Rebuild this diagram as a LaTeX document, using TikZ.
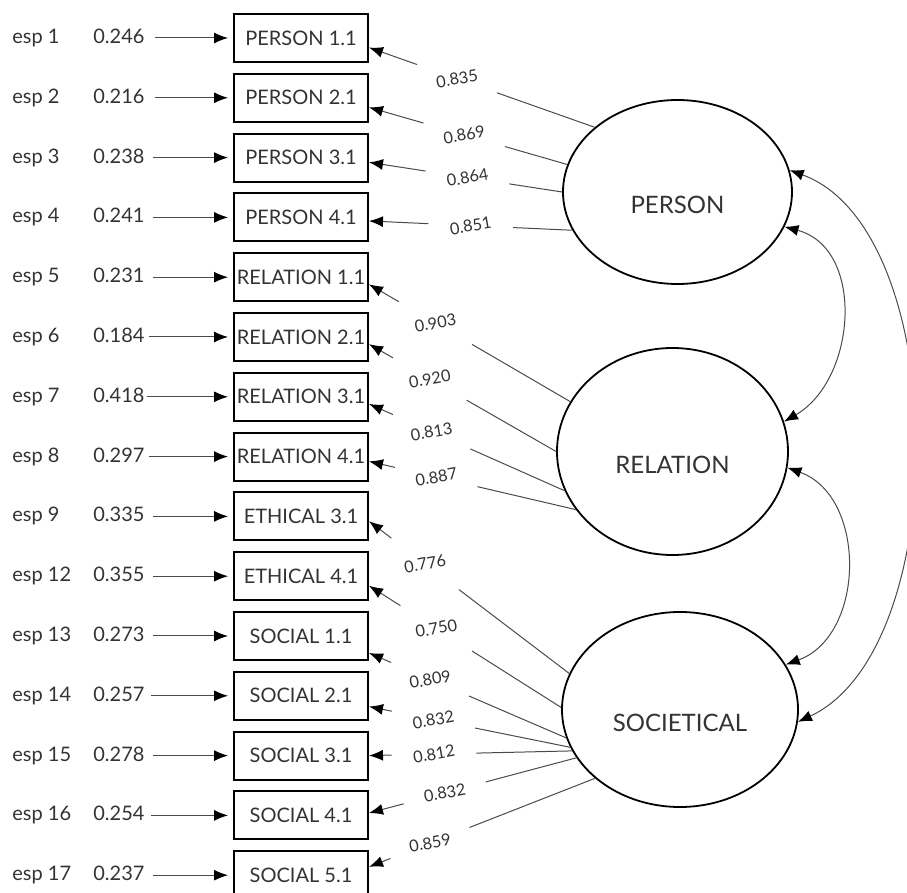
\documentclass[tikz,border=0pt]{standalone}
\usepackage{fontspec}
\setmainfont{Lato}
\usetikzlibrary{arrows.meta,shapes.geometric}

\definecolor{inkgray}{HTML}{333333}
\definecolor{linkgray}{HTML}{4A4A4A}

\tikzset{
  indicator/.style={draw, line width=1pt, minimum width=67pt, minimum height=24pt,
    inner sep=0pt, text=inkgray, font=\fontsize{10}{12}\selectfont},
  latent/.style={ellipse, draw, line width=0.9pt, inner sep=0pt},
  lattext/.style={text=inkgray, font=\fontsize{12}{14}\selectfont, yshift=-6.5pt},
  errtext/.style={anchor=west, inner sep=0pt, text height=7.5pt, text depth=2pt,
    text=inkgray, font=\fontsize{10}{12}\selectfont},
  loading/.style={circle, inner sep=0pt, minimum size=42pt, rotate=10,
    text=inkgray, font=\fontsize{8.2}{10}\selectfont},
  link/.style={draw=linkgray, line width=0.5pt},
}

\begin{document}
\begin{tikzpicture}[x=0.5pt, y=0.5pt,
    >={Latex[length=7pt,width=5.5pt,color=black]}]
      \useasboundingbox (0,0) rectangle (907,-893);

      % Observed variables
      \node[indicator] (pers1) at (301,-38) {PERSON 1.1};
      \node[indicator] (pers2) at (301,-97.8) {PERSON 2.1};
      \node[indicator] (pers3) at (301,-157.6) {PERSON 3.1};
      \node[indicator] (pers4) at (301,-217.4) {PERSON 4.1};
      \node[indicator] (rel1) at (301,-277.2) {RELATION 1.1};
      \node[indicator] (rel2) at (301,-337) {RELATION 2.1};
      \node[indicator] (rel3) at (301,-396.8) {RELATION 3.1};
      \node[indicator] (rel4) at (301,-456.6) {RELATION 4.1};
      \node[indicator] (eth3) at (301,-516.4) {ETHICAL 3.1};
      \node[indicator] (eth4) at (301,-576.2) {ETHICAL 4.1};
      \node[indicator] (soc1) at (301,-636) {SOCIAL 1.1};
      \node[indicator] (soc2) at (301,-695.8) {SOCIAL 2.1};
      \node[indicator] (soc3) at (301,-755.6) {SOCIAL 3.1};
      \node[indicator] (soc4) at (301,-815.4) {SOCIAL 4.1};
      \node[indicator] (soc5) at (301,-875.2) {SOCIAL 5.1};

      % Error terms
      \node[errtext] (esp1) at (12,-38) {esp 1};
      \node[errtext] (v1) at (93,-38) {0.246};
      \node[errtext] (esp2) at (12,-97.8) {esp 2};
      \node[errtext] (v2) at (93,-97.8) {0.216};
      \node[errtext] (esp3) at (12,-157.6) {esp 3};
      \node[errtext] (v3) at (93,-157.6) {0.238};
      \node[errtext] (esp4) at (12,-217.4) {esp 4};
      \node[errtext] (v4) at (93,-217.4) {0.241};
      \node[errtext] (esp5) at (12,-277.2) {esp 5};
      \node[errtext] (v5) at (93,-277.2) {0.231};
      \node[errtext] (esp6) at (12,-337) {esp 6};
      \node[errtext] (v6) at (93,-337) {0.184};
      \node[errtext] (esp7) at (12,-396.8) {esp 7};
      \node[errtext] (v7) at (93,-396.8) {0.418};
      \node[errtext] (esp8) at (12,-456.6) {esp 8};
      \node[errtext] (v8) at (93,-456.6) {0.297};
      \node[errtext] (esp9) at (12,-516.4) {esp 9};
      \node[errtext] (v9) at (93,-516.4) {0.335};
      \node[errtext] (esp12) at (12,-576.2) {esp 12};
      \node[errtext] (v12) at (93,-576.2) {0.355};
      \node[errtext] (esp13) at (12,-636) {esp 13};
      \node[errtext] (v13) at (93,-636) {0.273};
      \node[errtext] (esp14) at (12,-695.8) {esp 14};
      \node[errtext] (v14) at (93,-695.8) {0.257};
      \node[errtext] (esp15) at (12,-755.6) {esp 15};
      \node[errtext] (v15) at (93,-755.6) {0.278};
      \node[errtext] (esp16) at (12,-815.4) {esp 16};
      \node[errtext] (v16) at (93,-815.4) {0.254};
      \node[errtext] (esp17) at (12,-875.2) {esp 17};
      \node[errtext] (v17) at (93,-875.2) {0.237};

      \draw[->, link, shorten <=5pt, shorten >=2.5pt] (v1) -- (pers1);
      \draw[->, link, shorten <=5pt, shorten >=2.5pt] (v2) -- (pers2);
      \draw[->, link, shorten <=4pt, shorten >=2.5pt] (v3) -- (pers3);
      \draw[->, link, shorten <=4pt, shorten >=2.5pt] (v4) -- (pers4);
      \draw[->, link, shorten <=4pt, shorten >=2.5pt] (v5) -- (rel1);
      \draw[->, link, shorten <=2pt, shorten >=2.5pt] (v6) -- (rel2);
      \draw[->, link, shorten <=1pt, shorten >=2.5pt] (v7) -- (rel3);
      \draw[->, link, shorten <=2pt, shorten >=2.5pt] (v8) -- (rel4);
      \draw[->, link, shorten <=4pt, shorten >=2.5pt] (v9) -- (eth3);
      \draw[->, link, shorten <=4pt, shorten >=2.5pt] (v12) -- (eth4);
      \draw[->, link, shorten <=4pt, shorten >=2.5pt] (v13) -- (soc1);
      \draw[->, link, shorten <=3pt, shorten >=2.5pt] (v14) -- (soc2);
      \draw[->, link, shorten <=4pt, shorten >=2.5pt] (v15) -- (soc3);
      \draw[->, link, shorten <=3pt, shorten >=2.5pt] (v16) -- (soc4);
      \draw[->, link, shorten <=4pt, shorten >=2.5pt] (v17) -- (soc5);

      % Latent variables
      \node[latent, minimum width=114.5pt, minimum height=92pt,
        label={[lattext]center:PERSON}] (person) at (677.5,-192) {};
      \node[latent, minimum width=115.5pt, minimum height=103.5pt,
        label={[lattext]center:RELATION}] (relation) at (672.5,-451.5) {};
      \node[latent, minimum width=118pt, minimum height=97.5pt,
        label={[lattext]center:SOCIETICAL}] (societal) at (680,-709.5) {};

      % Loadings
      \path (person.142) -- node[loading, pos=.61] (lpers1) {0.835} (pers1.-8);
      \draw[->, link] (person.142) -- (lpers1) (lpers1) -- (pers1.-8);
      \path (person.166) -- node[loading, pos=.52] (lpers2) {0.869} (pers2.-8);
      \draw[->, link] (person.166) -- (lpers2) (lpers2) -- (pers2.-8);
      \path (person.180) -- node[loading, pos=.49] (lpers3) {0.864} (pers3.-4);
      \draw[->, link] (person.180) -- (lpers3) (lpers3) -- (pers3.-4);
      \path (person.200) -- node[loading, pos=.5] (lpers4) {0.851} (pers4.-3);
      \draw[->, link] (person.200) -- (lpers4) (lpers4) -- (pers4.-3);

      \path (relation.154) -- node[loading, pos=.67] (lrel1) {0.903} (rel1.-6);
      \draw[->, link] (relation.154) -- (lrel1) (lrel1) -- (rel1.-6);
      \path (relation.180) -- node[loading, pos=.675] (lrel2) {0.920} (rel2.-6);
      \draw[->, link] (relation.180) -- (lrel2) (lrel2) -- (rel2.-6);
      \path (relation.200) -- node[loading, pos=.68] (lrel3) {0.813} (rel3.-6);
      \draw[->, link] (relation.200) -- (lrel3) (lrel3) -- (rel3.-6);
      \path (relation.211) -- node[loading, pos=.675] (lrel4) {0.887} (rel4.-4);
      \draw[->, link] (relation.211) -- (lrel4) (lrel4) -- (rel4.-4);

      \path (societal.162) -- node[loading, pos=.72] (leth3) {0.776} (eth3.-4);
      \draw[->, link] (societal.162) -- (leth3) (leth3) -- (eth3.-4);
      \path (societal.179) -- node[loading, pos=.65] (leth4) {0.750} (eth4.-8);
      \draw[->, link] (societal.179) -- (leth4) (leth4) -- (eth4.-8);
      \path (societal.194) -- node[loading, pos=.69] (lsoc1) {0.809} (soc1.-14);
      \draw[->, link] (societal.194) -- (lsoc1) (lsoc1) -- (soc1.-14);
      \path (societal.199) -- node[loading, pos=.68] (lsoc2) {0.832} (soc2.-9);
      \draw[->, link] (societal.199) -- (lsoc2) (lsoc2) -- (soc2.-9);
      \path (societal.201) -- node[loading, pos=.68] (lsoc3) {0.812} (soc3.0);
      \draw[->, link] (societal.201) -- (lsoc3) (lsoc3) -- (soc3.0);
      \path (societal.205) -- node[loading, pos=.635] (lsoc4) {0.832} (soc4.2);
      \draw[->, link] (societal.205) -- (lsoc4) (lsoc4) -- (soc4.2);
      \path (societal.219) -- node[loading, pos=.73] (lsoc5) {0.859} (soc5.7);
      \draw[->, link] (societal.219) -- (lsoc5) (lsoc5) -- (soc5.7);

      % Covariances
      \draw[<->, link] (person.-18) to[out=-15, in=30, looseness=1.1] (relation.15);
      \draw[<->, link] (relation.-8) to[out=-20, in=20, looseness=1.1] (societal.23);
      \draw[<->, link] (person.11) to[out=-20, in=25, looseness=0.8] (societal.-6);
\end{tikzpicture}
\end{document}
